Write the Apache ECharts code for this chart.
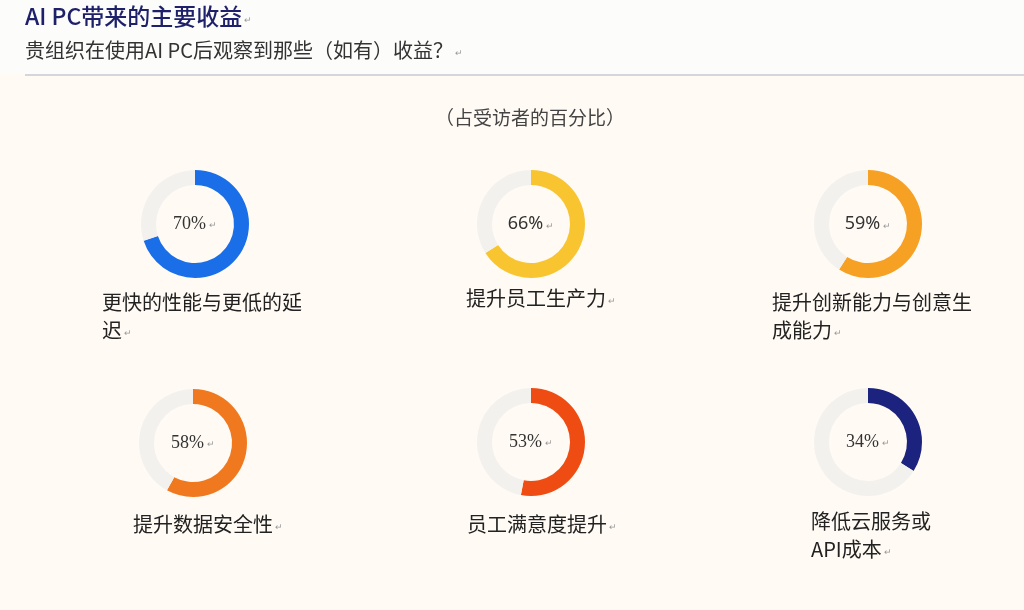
<!DOCTYPE html>
<html>
<head>
<meta charset="utf-8">
<script src="https://cdn.jsdelivr.net/npm/echarts@6/dist/echarts.min.js"></script>
<style>
 html, body { margin: 0; padding: 0; background: #fffaf4; }
 #main { width: 1024px; height: 610px; }
</style>
</head>
<body>
<div id="main"></div>
<script>
// 数据
var categories = ['更快的性能与更低的延\n迟', '提升员工生产力', '提升创新能力与创意生\n成能力',
  '提升数据安全性', '员工满意度提升', '降低云服务或\nAPI成本'];
var values = [70, 66, 59, 58, 53, 34];
var colors = ['#1a6fe8', '#f8c531', '#f6a024', '#f0791f', '#ee4c12', '#1c237e'];

// 布局（像素）
var centers = [[195, 224], [531, 224], [868, 224], [193, 443], [531, 442], [868, 442]];
var labelPos = [[97, 283], [461, 279], [767, 283], [128, 505], [462, 505], [806, 502]];
var pctFonts = ['Liberation Serif', 'Noto Sans', 'Noto Sans', 'Liberation Serif', 'Liberation Serif', 'Liberation Serif'];

var chart = echarts.init(document.getElementById('main'));

var mark = { fontSize: 9, color: '#9a9a9a', padding: [6, 0, 0, 2] };

var titles = [
 {
  text: 'AI PC带来的主要收益{m|↵}',
  left: 20, top: 0,
  textStyle: { fontFamily: 'Noto Sans CJK SC', fontSize: 23, fontWeight: 500, color: '#1e216a', rich: { m: mark } }
 },
 {
  text: '贵组织在使用AI PC后观察到那些（如有）收益？{m|↵}',
  left: 20, top: 35,
  textStyle: { fontFamily: 'Noto Sans CJK SC', fontSize: 20, fontWeight: 'normal', color: '#333', rich: { m: mark } }
 },
 {
  text: '（占受访者的百分比）',
  left: 430, top: 103,
  textStyle: { fontFamily: 'Noto Sans CJK SC', fontSize: 19, fontWeight: 'normal', color: '#444' }
 }
];

var series = [];
for (var i = 0; i < values.length; i++) {
 titles.push({
  text: categories[i] + '{m|↵}',
  left: labelPos[i][0], top: labelPos[i][1],
  textStyle: {
   fontFamily: 'Noto Sans CJK SC', fontSize: 20, fontWeight: 'normal', color: '#222', lineHeight: 28,
   rich: { m: { fontSize: 9, color: '#9a9a9a', padding: [6, 0, 0, 2] } }
  }
 });
 series.push({
  type: 'pie',
  center: centers[i],
  radius: [39, 54],
  startAngle: 90,
  clockwise: true,
  silent: true,
  labelLine: { show: false },
  data: [
   {
    value: values[i],
    itemStyle: { color: colors[i] },
    label: {
     show: true, position: 'center',
     formatter: values[i] + '%{m|↵}',
     fontFamily: pctFonts[i], fontSize: 18, color: '#333',
     rich: { m: { fontSize: 9, color: '#9a9a9a', padding: [4, 0, 0, 3] } }
    }
   },
   { value: 100 - values[i], itemStyle: { color: '#f3f1ee' }, label: { show: false } }
  ]
 });
}

chart.setOption({
 backgroundColor: '#fffaf4',
 animation: false,
 title: titles,
 graphic: [
  { type: 'rect', z: -1, shape: { x: 0, y: 0, width: 1024, height: 74 }, style: { fill: '#fcfcfb' } },
  { type: 'line', shape: { x1: 25, y1: 75, x2: 1024, y2: 75 }, style: { stroke: '#d4d6dc', lineWidth: 2 } }
 ],
 series: series
});
</script>
</body>
</html>
